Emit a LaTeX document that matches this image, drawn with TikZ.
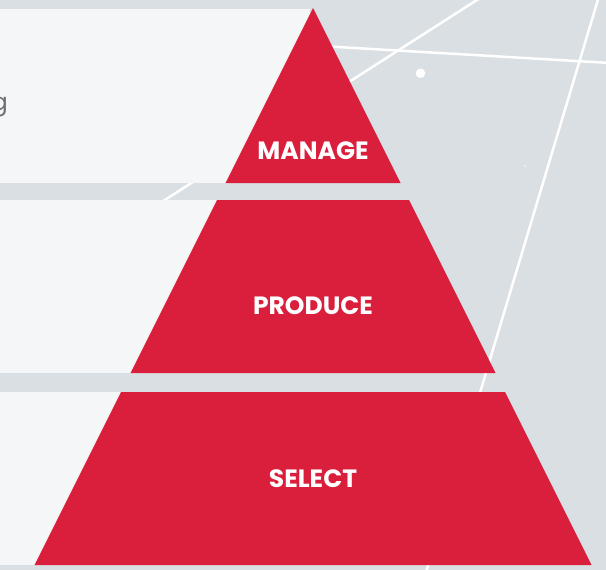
\documentclass[tikz,border=0pt]{standalone}
\usepackage{fontspec}
\usepackage{tikz}
\newfontfamily\labelfont{Poppins}
\definecolor{bggrey}{HTML}{DADFE3}
\definecolor{panelgrey}{HTML}{F4F6F8}
\definecolor{pyrred}{HTML}{DA1F3D}
\definecolor{txtgrey}{HTML}{6D6E71}

\begin{document}
\begin{tikzpicture}[x=1pt,y=-1pt,
        wire/.style={draw=white,line width=2.5pt},
        panel/.style={fill=panelgrey},
        layer/.style={fill=pyrred},
        layerlabel/.style={text=white,font=\labelfont\bfseries\fontsize{25}{30}\selectfont,inner sep=0pt}]
        \useasboundingbox (0,0) rectangle (606,570);
        \clip (0,0) rectangle (606,570);
        \fill[bggrey] (0,0) rectangle (606,570);

        % lines behind everything
        \draw[wire] (157,205) -- (480,-2);
        \draw[wire] (290,44.2) -- (610,63);
        \draw[wire] (600,-7) -- (425,576);
        \fill[white] (420.5,73.3) circle (4.8);
        \fill[white] (525,166) circle (0.8);

        % panels
        \fill[panel] (0,9) rectangle (310,183);
        \fill[panel] (0,200) rectangle (313,373);
        \fill[panel] (0,392) rectangle (313,565);

        % pyramid
        \fill[layer] (313,8) -- (400.5,183) -- (225.5,183) -- cycle;
        \fill[layer] (217,200) -- (409,200) -- (495.5,373) -- (130.5,373) -- cycle;
        \fill[layer] (121,392) -- (505,392) -- (591.5,565) -- (34.5,565) -- cycle;

        \node[layerlabel] (manage) at (313,151) {MANAGE};
        \node[layerlabel] (produce) at (313,306) {PRODUCE};
        \node[layerlabel] (select) at (313,479) {SELECT};

        \node[text=txtgrey,font=\labelfont\fontsize{24}{28}\selectfont,anchor=base east,inner sep=0pt] (cuttext) at (8,110) {g};
\end{tikzpicture}
\end{document}
